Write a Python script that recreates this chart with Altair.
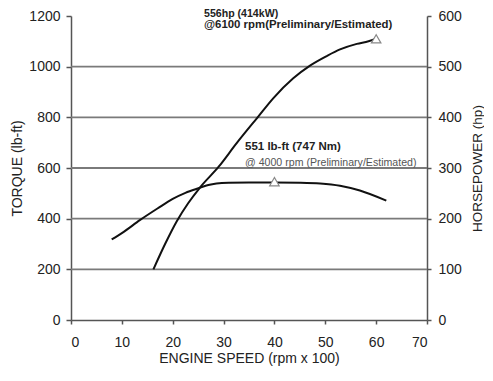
import altair as alt
import pandas as pd

# ---- data ----
rpm_torque = [8, 10, 13.6, 17, 20, 22.5, 25.2, 27, 28.6, 31, 35, 40, 45, 49, 52.9, 56.8, 62]
torque = [318, 343, 395, 440, 478, 502, 521, 533, 539, 542, 543, 543, 542, 539, 530, 511, 471]

rpm_hp = [16.2, 18.5, 20.8, 23, 25.4, 29, 32.5, 36.7, 39.8, 43.7, 47, 50.3, 52.9, 56.2, 58.5, 60]
hp = [100, 150, 195, 230, 262, 302, 348, 400, 438, 477, 502, 521, 534, 545, 550, 555]

peak_torque_rpm = [40]
peak_torque = [546]
peak_hp_rpm = [60]
peak_hp = [555]

grid_torque = [200, 400, 600, 800, 1000]
x_ticks = [0, 10, 20, 30, 40, 50, 60, 70]
torque_ticks = [0, 200, 400, 600, 800, 1000, 1200]
hp_ticks = [0, 100, 200, 300, 400, 500, 600]

hp_note = ["556hp (414kW)", "@6100 rpm(Preliminary/Estimated)"]
tq_note = ["551 lb-ft (747 Nm)", "@ 4000 rpm (Preliminary/Estimated)"]

# ---- styling ----
W, H = 356, 304
FONT = "Liberation Sans"
AXC = "#555555"
TXT = "#222222"

xscale = alt.Scale(domain=[0, 70], nice=False, zero=False)
yts = alt.Scale(domain=[0, 1200], nice=False)
yhs = alt.Scale(domain=[0, 600], nice=False)

x_axis = alt.Axis(
    values=x_ticks, format="d", title="ENGINE SPEED (rpm x 100)", grid=False,
    tickSize=4, labelPadding=11, labelFontSize=14, labelColor=TXT,
    domainColor=AXC, tickColor=AXC, domainWidth=1.5, tickWidth=1.5,
    titleFontSize=14, titleFontWeight="normal", titleColor=TXT,
    titleY=38, titleX=W / 2, titleBaseline="middle", titleAlign="center",
    labelFont=FONT, titleFont=FONT,
)
yt_axis = alt.Axis(
    values=torque_ticks, format="d", title="TORQUE (lb-ft)", grid=False, orient="left",
    tickSize=5, labelPadding=6, labelFontSize=14, labelColor=TXT,
    domainColor=AXC, tickColor=AXC, domainWidth=1.5, tickWidth=1.5,
    titleFontSize=14, titleFontWeight="normal", titleColor=TXT,
    titleX=-54, titleY=H / 2, titleAngle=270, titleBaseline="middle", titleAlign="center",
    labelFont=FONT, titleFont=FONT,
)
yh_axis = alt.Axis(
    values=hp_ticks, format="d", title="HORSEPOWER (hp)", grid=False, orient="right",
    tickSize=4, labelPadding=7, labelFontSize=14, labelColor=TXT,
    domainColor=AXC, tickColor=AXC, domainWidth=1.5, tickWidth=1.5,
    titleFontSize=13.5, titleFontWeight="normal", titleColor=TXT,
    titleX=50, titleY=H / 2, titleAngle=270, titleBaseline="middle", titleAlign="center",
    labelFont=FONT, titleFont=FONT,
)

df_t = pd.DataFrame({"rpm": rpm_torque, "val": torque})
df_h = pd.DataFrame({"rpm": rpm_hp, "val": hp})
df_pt = pd.DataFrame({"rpm": peak_torque_rpm, "val": peak_torque})
df_ph = pd.DataFrame({"rpm": peak_hp_rpm, "val": peak_hp})
df_g = pd.DataFrame({"val": grid_torque})

X = alt.X("rpm:Q", scale=xscale, axis=x_axis)
YT = alt.Y("val:Q", scale=yts, axis=yt_axis)
YH = alt.Y("val:Q", scale=yhs, axis=yh_axis)

grid = alt.Chart(df_g).mark_rule(color="#7a7a7a", strokeWidth=1.8).encode(y=YT)
t_line = alt.Chart(df_t).mark_line(color="#111111", strokeWidth=2, interpolate="monotone").encode(x=X, y=YT)
t_pt = alt.Chart(df_pt).mark_point(shape="triangle-up", filled=True, fill="white",
                                   stroke="#888888", strokeWidth=1.2, size=90, opacity=1).encode(x=X, y=YT)
torque_layer = alt.layer(grid, t_line, t_pt)

h_line = alt.Chart(df_h).mark_line(color="#111111", strokeWidth=2, interpolate="monotone").encode(x=X, y=YH)
h_pt = alt.Chart(df_ph).mark_point(shape="triangle-up", filled=True, fill="white",
                                   stroke="#888888", strokeWidth=1.2, size=90, opacity=1).encode(x=X, y=YH)
hp_layer = alt.layer(h_line, h_pt)


def note(text, x, y, size, weight, color):
    return alt.Chart(pd.DataFrame({"t": [text]})).mark_text(
        align="left", baseline="middle", font=FONT, fontSize=size,
        fontWeight=weight, color=color,
    ).encode(x=alt.value(x), y=alt.value(y), text="t:N")


notes = alt.layer(
    note(hp_note[0], 133, -2.5, 10.6, "bold", TXT),
    note(hp_note[1], 133, 8.5, 11.4, "bold", TXT),
    note(tq_note[0], 174, 131, 11.5, "bold", TXT),
    note(tq_note[1], 174, 147, 10.6, "normal", "#555555"),
)

chart = alt.layer(torque_layer, hp_layer, notes).resolve_scale(y="independent").properties(
    width=W, height=H,
    autosize=alt.AutoSizeParams(type="none"),
    padding={"left": 63, "top": 8, "right": 57, "bottom": 47},
    background="white",
).configure_view(stroke=None)

chart.save("out.html", embed_options={"renderer": "svg", "actions": False})
